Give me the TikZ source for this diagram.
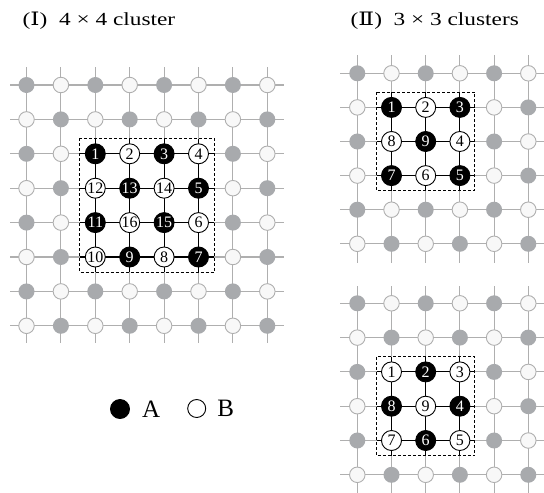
\documentclass[tikz,border=0pt]{standalone}
\usepackage{fontspec}
\setmainfont{Liberation Serif}
\newfontfamily\romfont{DejaVu Serif}
\usetikzlibrary{backgrounds,positioning}

\definecolor{gridgray}{RGB}{175,175,175}
\definecolor{dotgray}{RGB}{168,170,173}
\definecolor{dotwhite}{RGB}{248,248,248}

\begin{document}
\begin{tikzpicture}[
    x=1pt, y=-1pt,
    gline/.style={draw=gridgray, line width=1.1pt},
    bline/.style={draw=black, line width=1.1pt},
    dotA/.style={circle, fill=dotgray, inner sep=0pt, minimum size=16pt},
    dotB/.style={circle, draw=gridgray, fill=dotwhite, line width=0.9pt, inner sep=0pt, minimum size=15.5pt},
    siteA/.style={circle, draw=black, fill=black, text=white, line width=0.9pt, inner sep=0pt, minimum size=20pt, font=\fontsize{16}{16}\selectfont},
    siteB/.style={circle, draw=black, fill=white, line width=0.9pt, inner sep=0pt, minimum size=20pt, font=\fontsize{16}{16}\selectfont},
    clusterbox/.style={draw, dash pattern=on 3pt off 2pt, line width=1pt},
    title/.style={anchor=base west, inner sep=0pt, font=\fontsize{18.5}{22}\selectfont},
    legtext/.style={inner sep=0pt, font=\fontsize{25}{28}\selectfont}
]
\useasboundingbox (0,0) rectangle (544,493);

% titles
\node[title] (titleL) at (22.5,25) {\scalebox{1.26}[1]{({\romfont Ⅰ})\hspace{0.5em}4 × 4 cluster}};
\node[title] (titleR) at (350.5,25) {\scalebox{1.26}[1]{({\romfont Ⅱ})\hspace{0.5em}3 × 3 clusters}};

% (I) 8x8 lattice, 4x4 cluster inside
\foreach \r in {1,...,8}
  \foreach \c in {1,...,8} {
    \pgfmathtruncatemacro\odd{mod(\r+\c,2)}
    \pgfmathtruncatemacro\inner{(\r>2)&&(\r<7)&&(\c>2)&&(\c<7)}
    \ifnum\inner=0
      \ifnum\odd=0
        \node[dotA] (L-\r-\c) at ({26.5+34.4*(\c-1)},{85+34.4*(\r-1)}) {};
      \else
        \node[dotB] (L-\r-\c) at ({26.5+34.4*(\c-1)},{85+34.4*(\r-1)}) {};
      \fi
    \fi
  }
\foreach \lab [count=\k from 0] in {1,2,3,4,12,13,14,5,11,16,15,6,10,9,8,7} {
  \pgfmathtruncatemacro\r{3+int(\k/4)}
  \pgfmathtruncatemacro\c{3+mod(\k,4)}
  \pgfmathtruncatemacro\odd{mod(\r+\c,2)}
  \ifnum\odd=0
    \node[siteA] (L-\r-\c) at ({26.5+34.4*(\c-1)},{85+34.4*(\r-1)}) {\lab};
  \else
    \node[siteB] (L-\r-\c) at ({26.5+34.4*(\c-1)},{85+34.4*(\r-1)}) {\lab};
  \fi
}
\begin{scope}[on background layer]
  \foreach \i in {1,...,8} {
    \draw[gline] ([xshift=-16.5pt]L-\i-1.center) -- ([xshift=16.5pt]L-\i-8.center);
    \draw[gline] ([yshift=18pt]L-1-\i.center) -- ([yshift=-17pt]L-8-\i.center);
  }
  \foreach \i in {3,...,6} {
    \draw[bline] ([xshift=-15pt]L-\i-3.center) -- ([xshift=15pt]L-\i-6.center);
    \draw[bline] ([yshift=15pt]L-3-\i.center) -- ([yshift=-15pt]L-6-\i.center);
  }
\end{scope}
\draw[clusterbox] ([xshift=-15.5pt,yshift=15.5pt]L-3-3.center) rectangle ([xshift=15.5pt,yshift=-15.5pt]L-6-6.center);

% (II) upper 6x6 lattice
\foreach \r in {1,...,6}
  \foreach \c in {1,...,6} {
    \pgfmathtruncatemacro\odd{mod(\r+\c,2)}
    \pgfmathtruncatemacro\inner{(\r>1)&&(\r<5)&&(\c>1)&&(\c<5)}
    \ifnum\inner=0
      \ifnum\odd=0
        \node[dotA] (U-\r-\c) at ({357.3+34.2*(\c-1)},{73.3+34.1*(\r-1)}) {};
      \else
        \node[dotB] (U-\r-\c) at ({357.3+34.2*(\c-1)},{73.3+34.1*(\r-1)}) {};
      \fi
    \fi
  }
\foreach \lab [count=\k from 0] in {1,2,3,8,9,4,7,6,5} {
  \pgfmathtruncatemacro\r{2+int(\k/3)}
  \pgfmathtruncatemacro\c{2+mod(\k,3)}
  \pgfmathtruncatemacro\odd{mod(\r+\c,2)}
  \ifnum\odd=0
    \node[siteA] (U-\r-\c) at ({357.3+34.2*(\c-1)},{73.3+34.1*(\r-1)}) {\lab};
  \else
    \node[siteB] (U-\r-\c) at ({357.3+34.2*(\c-1)},{73.3+34.1*(\r-1)}) {\lab};
  \fi
}
\begin{scope}[on background layer]
  \foreach \i in {1,...,6} {
    \draw[gline] ([xshift=-17pt]U-\i-1.center) -- ([xshift=17pt]U-\i-6.center);
    \draw[gline] ([yshift=18pt]U-1-\i.center) -- ([yshift=-19pt]U-6-\i.center);
  }
  \foreach \i in {2,...,4} {
    \draw[bline] ([xshift=-15pt]U-\i-2.center) -- ([xshift=15pt]U-\i-4.center);
    \draw[bline] ([yshift=15pt]U-2-\i.center) -- ([yshift=-15pt]U-4-\i.center);
  }
\end{scope}
\draw[clusterbox] ([xshift=-15pt,yshift=15pt]U-2-2.center) rectangle ([xshift=15pt,yshift=-15pt]U-4-4.center);

% (II) lower 6x6 lattice
\foreach \r in {1,...,6}
  \foreach \c in {1,...,6} {
    \pgfmathtruncatemacro\odd{mod(\r+\c,2)}
    \pgfmathtruncatemacro\inner{(\r>2)&&(\r<6)&&(\c>1)&&(\c<5)}
    \ifnum\inner=0
      \ifnum\odd=0
        \node[dotA] (D-\r-\c) at ({357.3+34.2*(\c-1)},{303.3+34.3*(\r-1)}) {};
      \else
        \node[dotB] (D-\r-\c) at ({357.3+34.2*(\c-1)},{303.3+34.3*(\r-1)}) {};
      \fi
    \fi
  }
\foreach \lab [count=\k from 0] in {1,2,3,8,9,4,7,6,5} {
  \pgfmathtruncatemacro\r{3+int(\k/3)}
  \pgfmathtruncatemacro\c{2+mod(\k,3)}
  \pgfmathtruncatemacro\odd{mod(\r+\c,2)}
  \ifnum\odd=0
    \node[siteA] (D-\r-\c) at ({357.3+34.2*(\c-1)},{303.3+34.3*(\r-1)}) {\lab};
  \else
    \node[siteB] (D-\r-\c) at ({357.3+34.2*(\c-1)},{303.3+34.3*(\r-1)}) {\lab};
  \fi
}
\begin{scope}[on background layer]
  \foreach \i in {1,...,6} {
    \draw[gline] ([xshift=-17pt]D-\i-1.center) -- ([xshift=17pt]D-\i-6.center);
    \draw[gline] ([yshift=17pt]D-1-\i.center) -- ([yshift=-19pt]D-6-\i.center);
  }
  \foreach \i in {3,...,5} {
    \draw[bline] ([xshift=-15pt]D-\i-2.center) -- ([xshift=15pt]D-\i-4.center);
  }
  \foreach \i in {2,...,4} {
    \draw[bline] ([yshift=15pt]D-3-\i.center) -- ([yshift=-15pt]D-5-\i.center);
  }
\end{scope}
\draw[clusterbox] ([xshift=-15pt,yshift=15pt]D-3-2.center) rectangle ([xshift=15pt,yshift=-15pt]D-5-4.center);

% legend
\node[siteA, minimum size=19pt] (legA) at (120,409) {};
\node[legtext, right=12pt of legA] (labA) {A};
\node[siteB, minimum size=18pt] (legB) at (196.7,408.5) {};
\node[legtext, right=11pt of legB] (labB) {B};
\end{tikzpicture}
\end{document}
